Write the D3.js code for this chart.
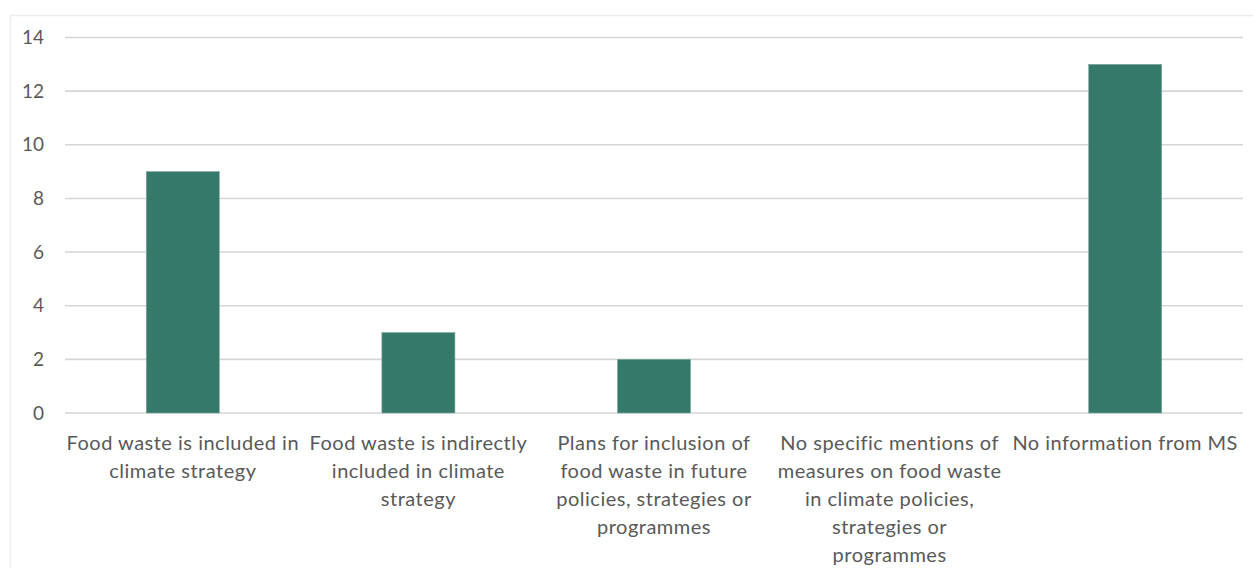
<!DOCTYPE html>
<html>
<head>
<meta charset="utf-8">
<script src="https://cdn.jsdelivr.net/npm/d3@7"></script>
<style>
  html, body { margin: 0; padding: 0; background: #fff; }
  svg { display: block; }
  text { font-family: Lato, "Open Sans", sans-serif; fill: #595959; }
</style>
</head>
<body>
<svg id="chart" width="1253" height="568"></svg>
<script>
// Category labels, one entry per line of each wrapped label
const categories = [
  ["Food waste is included in", "climate strategy"],
  ["Food waste is indirectly", "included in climate", "strategy"],
  ["Plans for inclusion of", "food waste in future", "policies, strategies or", "programmes"],
  ["No specific mentions of", "measures on food waste", "in climate policies,", "strategies or", "programmes"],
  ["No information from MS"]
];
const values = [9, 3, 2, 0, 13];
const yTicks = [0, 2, 4, 6, 8, 10, 12, 14];

const svg = d3.select("#chart");
const W = 1253, H = 568;
const plotLeft = 65, plotRight = 1243;
const plotTop = 37.5, plotBottom = 413;

// Chart frame
svg.append("rect")
  .attr("x", 10.5).attr("y", 15.5)
  .attr("width", W).attr("height", H)
  .attr("fill", "#fff")
  .attr("stroke", "#ececec")
  .attr("stroke-width", 1.5);

const x = d3.scaleBand()
  .domain(d3.range(categories.length))
  .range([plotLeft, plotRight])
  .padding(0);

const y = d3.scaleLinear()
  .domain([0, 14])
  .range([plotBottom, plotTop]);

// Gridlines
svg.append("g")
  .selectAll("line")
  .data(yTicks)
  .join("line")
  .attr("x1", plotLeft).attr("x2", plotRight)
  .attr("y1", d => y(d)).attr("y2", d => y(d))
  .attr("stroke", "#d6d6d6")
  .attr("stroke-width", 1.6);

// Y tick labels
svg.append("g")
  .selectAll("text")
  .data(yTicks)
  .join("text")
  .attr("x", 44)
  .attr("y", d => y(d))
  .attr("dy", "0.35em")
  .attr("text-anchor", "end")
  .attr("font-size", 19)
  .text(d => d);

// Bars
const barW = x.bandwidth() * 0.31;
svg.append("g")
  .selectAll("rect")
  .data(values)
  .join("rect")
  .attr("x", (d, i) => x(i) + x.bandwidth() / 2 - barW / 2)
  .attr("y", d => y(d))
  .attr("width", barW)
  .attr("height", d => y(0) - y(d))
  .attr("fill", "#35796b")
  .attr("stroke", "#7fa89f")
  .attr("stroke-width", d => d > 0 ? 0.6 : 0);

// Category labels
const labels = svg.append("g")
  .selectAll("text")
  .data(categories)
  .join("text")
  .attr("text-anchor", "middle")
  .attr("font-size", 20)
  .attr("letter-spacing", "0.5px");

labels.selectAll("tspan")
  .data((d, i) => d.map(line => ({ line, i })))
  .join("tspan")
  .attr("x", d => x(d.i) + x.bandwidth() / 2)
  .attr("y", (d, j) => 450 + j * 28)
  .text(d => d.line);
</script>
</body>
</html>
